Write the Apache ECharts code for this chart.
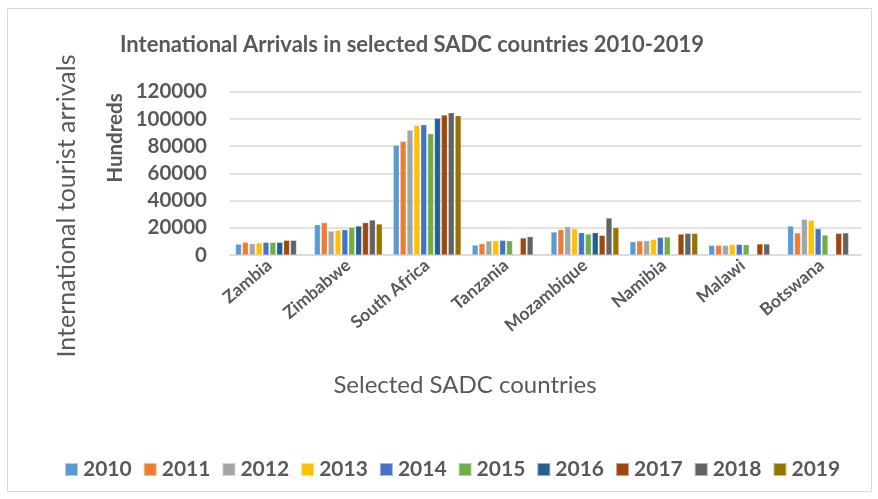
<!DOCTYPE html>
<html>
<head>
<meta charset="utf-8">
<script src="https://cdn.jsdelivr.net/npm/echarts@6/dist/echarts.min.js"></script>
<style>
  html, body { margin: 0; padding: 0; background: #fff; }
  #chart { width: 878px; height: 499px; }
</style>
</head>
<body>
<div id="chart"></div>
<script>
// Countries along the category axis
const countries = ['Zambia', 'Zimbabwe', 'South Africa', 'Tanzania', 'Mozambique', 'Namibia', 'Malawi', 'Botswana'];
// One series per year; values in hundreds of arrivals (null = no data)
const years = ['2010', '2011', '2012', '2013', '2014', '2015', '2016', '2017', '2018', '2019'];
const y2010 = [8000, 22300, 80600, 7300, 16900, 9800, 7100, 21300];
const y2011 = [9300, 23800, 83500, 8300, 18600, 10300, 7100, 16200];
const y2012 = [8300, 17600, 91800, 10300, 20800, 10500, 7100, 26200];
const y2013 = [8800, 18100, 95300, 10500, 19300, 11500, 7800, 25500];
const y2014 = [9300, 18600, 95700, 10800, 16400, 13000, 7800, 19300];
const y2015 = [9300, 20300, 89100, 10500, 15400, 13200, 7600, 14700];
const y2016 = [9300, 21300, 100400, null, 16400, null, null, null];
const y2017 = [10800, 23800, 102900, 12500, 14400, 15400, 8100, 15900];
const y2018 = [10800, 25700, 104600, 13500, 27200, 15900, 8100, 16200];
const y2019 = [null, 22800, 102400, null, 20100, 15900, null, null];
const yearValues = [y2010, y2011, y2012, y2013, y2014, y2015, y2016, y2017, y2018, y2019];
// Value axis ticks
const yTicks = [0, 20000, 40000, 60000, 80000, 100000, 120000];

const palette = ['#5B9BD5', '#ED7D31', '#A5A5A5', '#FFC000', '#4472C4', '#70AD47', '#255E91', '#9E480E', '#636363', '#997300'];
const FONT = 'Lato, "Open Sans", sans-serif';
const TEXT = '#595959';

const chart = echarts.init(document.getElementById('chart'), null, { renderer: 'canvas' });

chart.setOption({
  animation: false,
  backgroundColor: '#fff',
  color: palette,
  graphic: [{
    type: 'rect',
    shape: { x: 7.5, y: 8.5, width: 864, height: 483 },
    style: { fill: 'none', stroke: '#D9D9D9', lineWidth: 1 },
    silent: true
  }, {
    type: 'text',
    style: {
      text: 'Intenational Arrivals in selected SADC countries 2010-2019',
      font: 'bold 22px ' + FONT,
      fill: TEXT,
      align: 'left',
      verticalAlign: 'middle'
    },
    x: 120, y: 45
  }, {
    type: 'text',
    style: {
      text: 'International tourist arrivals',
      font: '25px ' + FONT,
      fill: TEXT,
      align: 'center',
      verticalAlign: 'middle'
    },
    x: 67, y: 206, rotation: Math.PI / 2
  }, {
    type: 'text',
    style: {
      text: 'Hundreds',
      font: 'bold 20.5px ' + FONT,
      fill: TEXT,
      align: 'center',
      verticalAlign: 'middle'
    },
    x: 115, y: 138, rotation: Math.PI / 2
  }],
  legend: {
    data: years,
    top: 454,
    left: 59,
    itemWidth: 13,
    itemHeight: 13,
    itemGap: 11,
    icon: 'rect',
    textStyle: { fontFamily: FONT, fontWeight: 'bold', fontSize: 21, color: TEXT }
  },
  grid: { left: 230, right: 17, top: 91.7, bottom: 244 },
  xAxis: {
    type: 'category',
    data: countries,
    name: 'Selected SADC countries',
    nameLocation: 'middle',
    nameGap: 118,
    nameTextStyle: { fontFamily: FONT, fontSize: 24, color: TEXT, padding: [0, 0, 0, -161] },
    axisLine: { show: true, lineStyle: { color: '#D9D9D9', width: 1.5 } },
    axisTick: { show: false },
    axisLabel: {
      rotate: 40,
      interval: 0,
      margin: 8,
      fontFamily: FONT,
      fontWeight: 'bold',
      fontSize: 17.5,
      color: TEXT
    }
  },
  yAxis: {
    type: 'value',
    min: yTicks[0],
    max: yTicks[yTicks.length - 1],
    interval: yTicks[1] - yTicks[0],
    axisLine: { show: false },
    axisTick: { show: false },
    splitLine: { lineStyle: { color: '#D9D9D9', width: 1.5 } },
    axisLabel: {
      margin: 23,
      formatter: (v) => String(v),
      fontFamily: FONT,
      fontWeight: 'bold',
      fontSize: 20.5,
      color: TEXT
    }
  },
  series: years.map((yr, i) => ({
    name: yr,
    type: 'bar',
    data: yearValues[i],
    barGap: '15%',
    barCategoryGap: '14%',
    itemStyle: { color: palette[i], borderColor: 'rgba(255,255,255,0.5)', borderWidth: 0.5 }
  }))
});
</script>
</body>
</html>
